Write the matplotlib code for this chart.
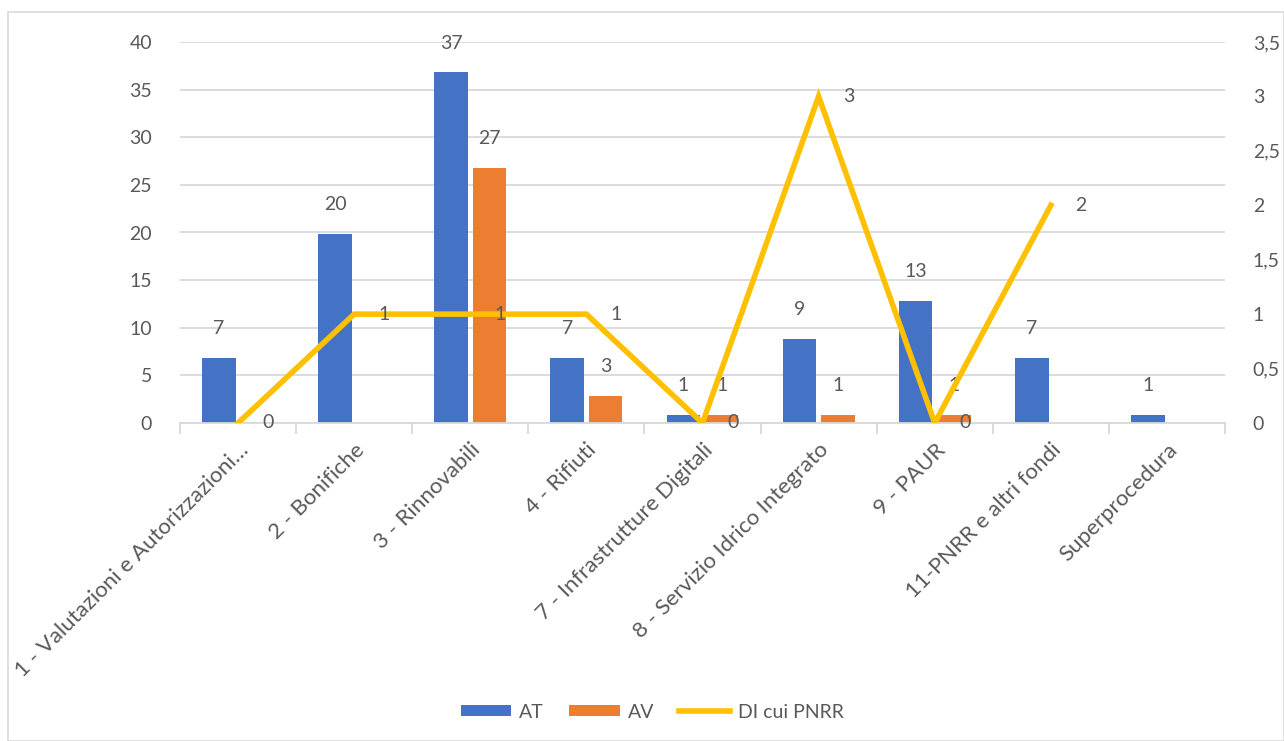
import numpy as np
import matplotlib.pyplot as plt
from matplotlib.patches import Rectangle

categories = ['1 - Valutazioni e Autorizzazioni…', '2 - Bonifiche', '3 - Rinnovabili',
              '4 - Rifiuti', '7 - Infrastrutture Digitali', '8 - Servizio Idrico Integrato',
              '9 - PAUR', '11-PNRR e altri fondi', 'Superprocedura']
at_values = [7, 20, 37, 7, 1, 9, 13, 7, 1]
av_values = [None, None, 27, 3, 1, 1, 1, None, None]
di_values = [0, 1, 1, 1, 0, 3, 0, 2]

BLUE = '#4472C4'
ORANGE = '#ED7D31'
YELLOW = '#FFC000'
TXT = '#595959'
GRID = '#D9D9D9'

plt.rcParams['font.family'] = ['Lato', 'DejaVu Sans']

fig = plt.figure(figsize=(12.84, 7.41), dpi=100)
fig.patches.append(Rectangle((8 / 1284, 0), 1 - 8 / 1284, 1 - 12 / 741, transform=fig.transFigure,
                             fill=False, edgecolor=GRID, linewidth=1.2))

ax = fig.add_axes([180 / 1284, 1 - 423 / 741, 1045 / 1284, 381 / 741])
ax2 = ax.twinx()

x = np.arange(len(categories))
w = 0.29
off = 0.165

# bars drawn slightly short of their value, as in the source
at_h = [v - 0.2 for v in at_values]
ax.bar(x - off, at_h, w, color=BLUE, label='AT', zorder=2)
av_x = [xi + off for xi, v in zip(x, av_values) if v is not None]
av_v = [v for v in av_values if v is not None]
ax.bar(av_x, [v - 0.2 for v in av_v], w, color=ORANGE, label='AV', zorder=2)

for xi, v in zip(x, at_values):
    ax.text(xi - off, v + 2, str(v), ha='center', va='bottom', fontsize=14, color=TXT)
for xi, v in zip(av_x, av_v):
    ax.text(xi, v + 2, str(v), ha='center', va='bottom', fontsize=14, color=TXT)

ax.set_xlim(-0.5, len(categories) - 0.5)
ax.set_ylim(0, 40)
ax.set_yticks(range(0, 41, 5))
ax.yaxis.grid(True, color=GRID, linewidth=1.3, zorder=0)
ax.set_axisbelow(True)

xd = np.arange(len(di_values))
ax2.plot(xd, di_values, color=YELLOW, linewidth=4, solid_joinstyle='miter', label='DI cui PNRR', zorder=3)
for xi, v in zip(xd, di_values):
    ax2.text(xi + 0.26, v, str(v), ha='center', va='center', fontsize=14, color=TXT)
ax2.set_ylim(0, 3.5)
ax2.set_yticks(np.arange(0, 3.6, 0.5))
ax2.set_yticklabels(['0', '0,5', '1', '1,5', '2', '2,5', '3', '3,5'])
ax2.set_zorder(ax.get_zorder() + 1)
ax2.patch.set_visible(False)

for a in (ax, ax2):
    for s in a.spines.values():
        s.set_visible(False)
    a.tick_params(axis='y', length=0, labelsize=14, labelcolor=TXT, pad=20)

ax.spines['bottom'].set_visible(True)
ax.spines['bottom'].set_color(GRID)
ax.spines['bottom'].set_linewidth(1.3)
ax.set_xticks(x)
ax.set_xticklabels(categories, rotation=45, ha='right', rotation_mode='anchor',
                   fontsize=16, color=TXT)
ax.tick_params(axis='x', length=0, pad=12)
ax.set_xticks(np.arange(-0.5, len(categories)), minor=True)
ax.tick_params(axis='x', which='minor', length=8, color=GRID, width=1.3)

h1, l1 = ax.get_legend_handles_labels()
h2, l2 = ax2.get_legend_handles_labels()
fig.legend(h1 + h2, l1 + l2, loc='center', bbox_to_anchor=(0.508, 1 - 712 / 741), ncol=3,
           frameon=False, fontsize=14, labelcolor=TXT, handlelength=2.6, handleheight=0.5,
           columnspacing=1.3, handletextpad=0.4)

fig.savefig('out.png', dpi=100)
